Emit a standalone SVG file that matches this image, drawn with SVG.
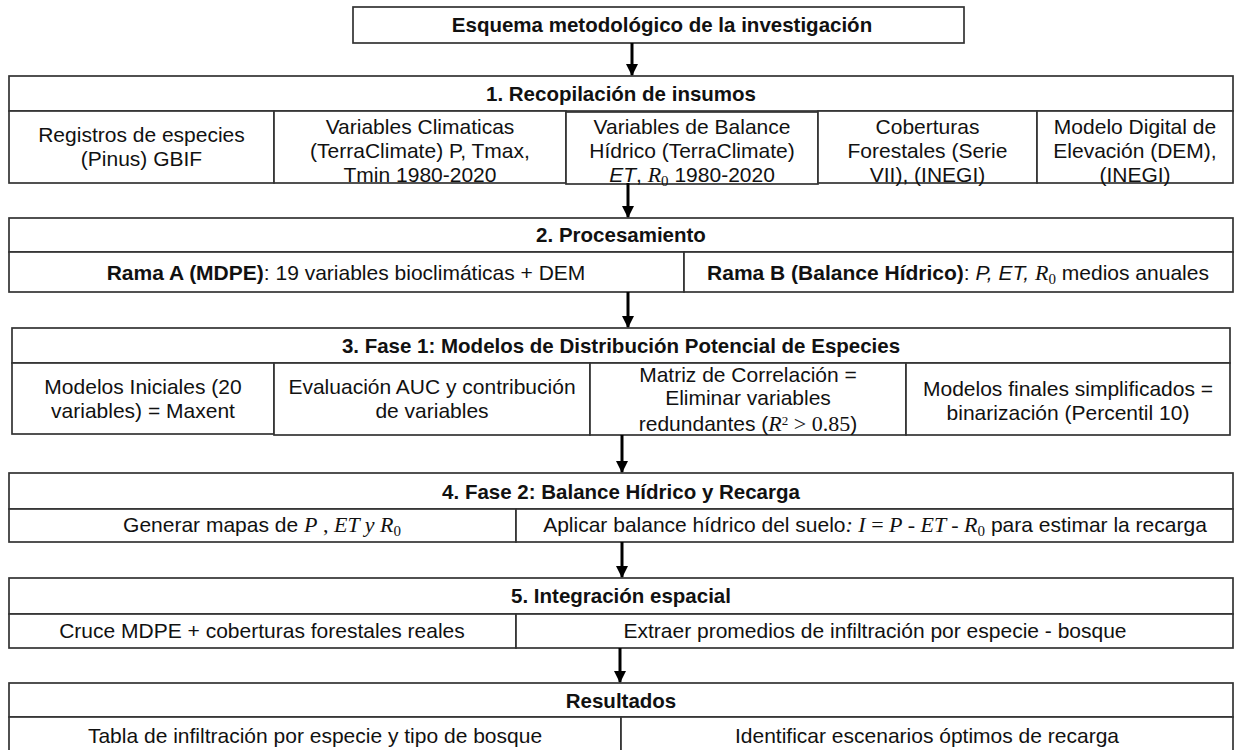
<svg xmlns="http://www.w3.org/2000/svg" width="1236" height="750" viewBox="0 0 1236 750">
  <defs>
    <style>
      .box { fill: #ffffff; stroke: #333333; stroke-width: 1.7; }
      .t { font-family: "Liberation Sans", Arial, sans-serif; font-size: 21px; fill: #111111; text-anchor: middle; }
      .b { font-weight: bold; font-size: 20.5px; }
      .t .b { font-size: 21px; }
      .i { font-style: italic; }
      .m { font-family: "Liberation Serif", "Times New Roman", serif; font-style: italic; font-size: 22px; }
      .mu { font-family: "Liberation Serif", "Times New Roman", serif; font-style: normal; font-size: 22px; }
      .sub { font-family: "Liberation Serif", "Times New Roman", serif; font-style: normal; font-size: 15px; }
      .sup { font-family: "Liberation Serif", "Times New Roman", serif; font-style: normal; font-size: 13px; }
      .conn line { stroke: #000000; stroke-width: 3; }
    </style>
    <marker id="arrow" markerUnits="userSpaceOnUse" markerWidth="12" markerHeight="12" refX="11" refY="6" orient="auto">
      <path d="M0,0 L12,6 L0,12 Z" fill="#000000"/>
    </marker>
  </defs>

  <rect width="1236" height="750" fill="#ffffff"/>

  <!-- title -->
  <g id="title">
    <rect class="box" x="353" y="7" width="611" height="36"/>
    <text class="t b" x="662" y="32">Esquema metodológico de la investigación</text>
  </g>

  <!-- 1. inputs -->
  <g id="recopilacion">
    <rect class="box" x="9" y="76" width="1224" height="35"/>
    <text class="t b" x="621" y="101">1. Recopilación de insumos</text>
    <rect class="box" x="9" y="111" width="265" height="72"/>
    <text class="t" x="141.5" y="142">Registros de especies</text>
    <text class="t" x="141.5" y="166">(Pinus) GBIF</text>
    <rect class="box" x="274" y="111" width="292" height="72"/>
    <text class="t" x="420" y="134">Variables Climaticas</text>
    <text class="t" x="420" y="158">(TerraClimate) P, Tmax,</text>
    <text class="t" x="420" y="182">Tmin 1980-2020</text>
    <rect class="box" x="566" y="112" width="252" height="72"/>
    <text class="t" x="692" y="134">Variables de Balance</text>
    <text class="t" x="692" y="158">Hídrico (TerraClimate)</text>
    <text class="t" x="692" y="182"><tspan class="i">ET</tspan>, <tspan class="m">R</tspan><tspan class="sub" dy="4">0</tspan><tspan dy="-4"> 1980-2020</tspan></text>
    <rect class="box" x="818" y="111" width="219" height="72"/>
    <text class="t" x="927.5" y="134">Coberturas</text>
    <text class="t" x="927.5" y="158">Forestales (Serie</text>
    <text class="t" x="927.5" y="182">VII), (INEGI)</text>
    <rect class="box" x="1037" y="111" width="196" height="72"/>
    <text class="t" x="1135" y="134">Modelo Digital de</text>
    <text class="t" x="1135" y="158">Elevación (DEM),</text>
    <text class="t" x="1135" y="182">(INEGI)</text>
  </g>

  <!-- 2. processing -->
  <g id="procesamiento">
    <rect class="box" x="9" y="218" width="1224" height="34"/>
    <text class="t b" x="621" y="242">2. Procesamiento</text>
    <rect class="box" x="9" y="252" width="675" height="40"/>
    <text class="t" x="346" y="280"><tspan class="b">Rama A (MDPE)</tspan>: 19 variables bioclimáticas + DEM</text>
    <rect class="box" x="684" y="252" width="549" height="40"/>
    <text class="t" x="958" y="280"><tspan class="b">Rama B (Balance Hídrico)</tspan>: <tspan class="i">P, ET, </tspan><tspan class="m">R</tspan><tspan class="sub" dy="4">0</tspan><tspan dy="-4"> medios anuales</tspan></text>
  </g>

  <!-- 3. species distribution models -->
  <g id="fase1">
    <rect class="box" x="12" y="328" width="1218" height="35"/>
    <text class="t b" x="621" y="353">3. Fase 1: Modelos de Distribución Potencial de Especies</text>
    <rect class="box" x="12" y="363" width="262" height="71"/>
    <text class="t" x="143" y="394">Modelos Iniciales (20</text>
    <text class="t" x="143" y="418">variables) = Maxent</text>
    <rect class="box" x="274" y="363" width="316" height="72"/>
    <text class="t" x="432" y="394">Evaluación AUC y contribución</text>
    <text class="t" x="432" y="418">de variables</text>
    <rect class="box" x="590" y="363" width="316" height="72"/>
    <text class="t" x="748" y="382">Matriz de Correlación =</text>
    <text class="t" x="748" y="405">Eliminar variables</text>
    <text class="t" x="748" y="431">redundantes (<tspan class="m">R</tspan><tspan class="sup" dy="-6">2</tspan><tspan class="mu" dy="6"> &gt; 0.85</tspan>)</text>
    <rect class="box" x="906" y="363" width="324" height="72"/>
    <text class="t" x="1068" y="396">Modelos finales simplificados =</text>
    <text class="t" x="1068" y="420">binarización (Percentil 10)</text>
  </g>

  <!-- 4. water balance -->
  <g id="fase2">
    <rect class="box" x="9" y="473" width="1224" height="36"/>
    <text class="t b" x="621" y="499">4. Fase 2: Balance Hídrico y Recarga</text>
    <rect class="box" x="9" y="509" width="507" height="33"/>
    <text class="t" x="262" y="532">Generar mapas de <tspan class="m">P</tspan><tspan class="mu"> , </tspan><tspan class="m">ET  y R</tspan><tspan class="sub" dy="4">0</tspan></text>
    <rect class="box" x="516" y="509" width="717" height="33"/>
    <text class="t" x="875" y="532">Aplicar balance hídrico del suelo<tspan class="m">: I </tspan><tspan class="mu">= </tspan><tspan class="m">P </tspan><tspan class="mu">- </tspan><tspan class="m">ET </tspan><tspan class="mu">- </tspan><tspan class="m">R</tspan><tspan class="sub" dy="4">0</tspan><tspan dy="-4"> para estimar la recarga</tspan></text>
  </g>

  <!-- 5. spatial integration -->
  <g id="integracion">
    <rect class="box" x="9" y="578" width="1224" height="36"/>
    <text class="t b" x="621" y="603">5. Integración espacial</text>
    <rect class="box" x="9" y="614" width="507" height="34"/>
    <text class="t" x="262" y="638">Cruce MDPE + coberturas forestales reales</text>
    <rect class="box" x="516" y="614" width="717" height="34"/>
    <text class="t" x="875" y="638">Extraer promedios de infiltración por especie - bosque</text>
  </g>

  <!-- results -->
  <g id="resultados">
    <rect class="box" x="9" y="683" width="1224" height="34"/>
    <text class="t b" x="621" y="708">Resultados</text>
    <rect class="box" x="9" y="717" width="612" height="40"/>
    <text class="t" x="315" y="743">Tabla de infiltración por especie y tipo de bosque</text>
    <rect class="box" x="621" y="717" width="612" height="40"/>
    <text class="t" x="927" y="743">Identificar escenarios óptimos de recarga</text>
  </g>

  <!-- connectors -->
  <g class="conn" id="connectors">
    <line x1="632" y1="43" x2="632" y2="75" marker-end="url(#arrow)"/>
    <line x1="628" y1="183" x2="628" y2="217" marker-end="url(#arrow)"/>
    <line x1="628" y1="292" x2="628" y2="327" marker-end="url(#arrow)"/>
    <line x1="622" y1="435" x2="622" y2="472" marker-end="url(#arrow)"/>
    <line x1="622" y1="542" x2="622" y2="577" marker-end="url(#arrow)"/>
    <line x1="620" y1="648" x2="620" y2="682" marker-end="url(#arrow)"/>
  </g>
</svg>
